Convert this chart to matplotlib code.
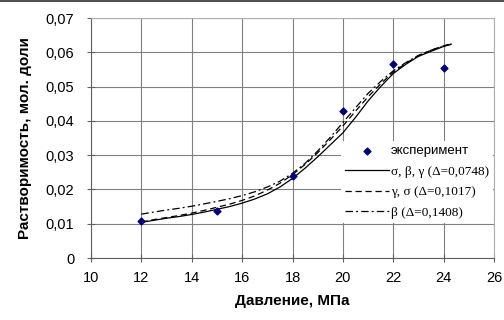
import matplotlib
matplotlib.use('Agg')
import matplotlib.pyplot as plt
from matplotlib.ticker import FuncFormatter, MultipleLocator
from matplotlib.lines import Line2D

# эксперимент
p_exp = [12, 15, 18, 20, 22, 24]
x_exp = [0.0107, 0.0137, 0.0238, 0.0428, 0.0567, 0.0553]

# расчетные кривые
p_calc = [12, 12.5, 13, 13.5, 14, 14.5, 15, 15.5, 16, 16.5, 17, 17.5, 18,
          18.5, 19, 19.5, 20, 20.5, 21, 21.5, 22, 22.5, 23, 23.5, 24, 24.3]
x_sbg = [0.0104, 0.0110, 0.0116, 0.0121, 0.0127, 0.0134, 0.0142, 0.0150, 0.0160,
         0.0172, 0.0187, 0.0207, 0.0232, 0.0262, 0.0295, 0.0330, 0.0365, 0.0410,
         0.0458, 0.0500, 0.0538, 0.0565, 0.0588, 0.0603, 0.0617, 0.0624]
x_gs = [0.0105, 0.0112, 0.0118, 0.0124, 0.0131, 0.0139, 0.0148, 0.0157, 0.0168,
        0.0181, 0.0198, 0.0218, 0.0243, 0.0273, 0.0307, 0.0345, 0.0385, 0.0428,
        0.0470, 0.0508, 0.0542, 0.0568, 0.0590, 0.0606, 0.0619, 0.0625]
x_b = [0.0128, 0.0134, 0.0140, 0.0145, 0.0151, 0.0158, 0.0165, 0.0173, 0.0182,
       0.0193, 0.0207, 0.0224, 0.0247, 0.0276, 0.0312, 0.0352, 0.0395, 0.0438,
       0.0480, 0.0515, 0.0546, 0.0570, 0.0591, 0.0606, 0.0618, 0.0623]

labels = ['эксперимент', 'σ, β, γ (Δ=0,0748)', 'γ, σ (Δ=0,1017)', 'β (Δ=0,1408)']

plt.rcParams['font.family'] = ['Liberation Sans', 'DejaVu Sans']

fig = plt.figure(figsize=(5.04, 3.2), dpi=100)
ax = fig.add_axes([91 / 504, 62 / 320, 403 / 504, 240 / 320])

ax.plot(p_calc, x_sbg, color='black', lw=0.9, ls='-', label=labels[1])
ax.plot(p_calc, x_gs, color='black', lw=0.9, ls=(0, (5, 3)), label=labels[2])
ax.plot(p_calc, x_b, color='black', lw=0.9, ls=(0, (6, 2.5, 1.5, 2.5)), label=labels[3])
ax.scatter(p_exp, x_exp, marker='D', s=12, color='#00007f', zorder=5, label=labels[0])

ax.set_xlim(10, 26)
ax.set_ylim(0, 0.07)
ax.xaxis.set_major_locator(MultipleLocator(2))
ax.yaxis.set_major_locator(MultipleLocator(0.01))
ax.yaxis.set_major_formatter(FuncFormatter(lambda v, p: '0' if v == 0 else f'{v:.2f}'.replace('.', ',')))
ax.xaxis.set_major_formatter(FuncFormatter(lambda v, p: f'{v:.0f}'))
ax.grid(True, color='#808080', lw=0.8)
ax.set_axisbelow(True)
for s in ['top', 'right']:
    ax.spines[s].set_color('#b0b0b0')
for s in ['left', 'bottom']:
    ax.spines[s].set_color('#606060')
ax.tick_params(direction='inout', length=6, width=0.8, color='#606060', labelsize=10.5, pad=6)
ax.tick_params(axis='y', pad=9)

ax.set_xlabel('Давление, МПа', fontsize=11, fontweight='bold', labelpad=7)
ax.set_ylabel('Растворимость, мол. доли', fontsize=11, fontweight='bold', labelpad=10)

handles, labs = ax.get_legend_handles_labels()
order = [3, 0, 1, 2]
leg = ax.legend([handles[i] for i in order], [labs[i] for i in order],
                loc='center right', bbox_to_anchor=(1.0, 0.317), frameon=True,
                edgecolor='none', facecolor='white', framealpha=1,
                fontsize=9.5, handlelength=3.3, handletextpad=0.15,
                borderpad=0.3, labelspacing=0.62, borderaxespad=0.1)
for i, t in enumerate(leg.get_texts()):
    if i > 0:
        t.set_family(['Liberation Serif', 'DejaVu Serif'])
        t.set_fontsize(9.5)

fig.add_artist(Line2D([0, 1], [0.998, 0.998], transform=fig.transFigure, color='#303030', lw=1.2))

plt.savefig('out.png', dpi=100)
